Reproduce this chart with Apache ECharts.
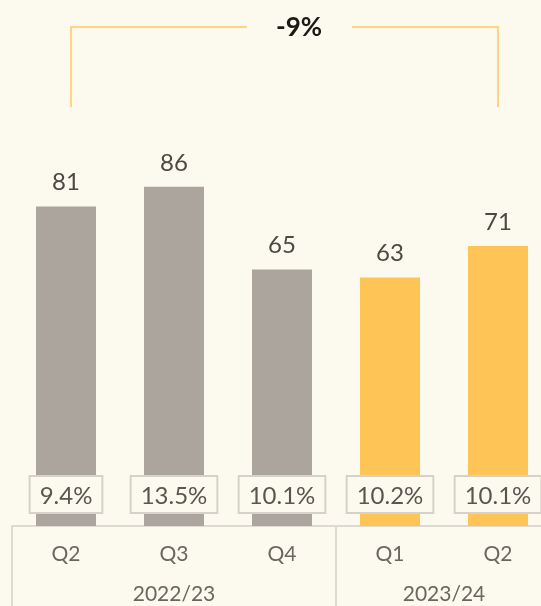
<!DOCTYPE html>
<html>
<head>
<meta charset="utf-8">
<script src="https://cdn.jsdelivr.net/npm/echarts@6/dist/echarts.min.js"></script>
<style>
  html, body { margin: 0; padding: 0; background: #fcf9ee; }
  #main { width: 541px; height: 606px; }
</style>
</head>
<body>
<div id="main"></div>
<script>
var chartDom = document.getElementById('main');
var myChart = echarts.init(chartDom);
var option;

// quarters and the fiscal year each belongs to
const quarters = ['Q2', 'Q3', 'Q4', 'Q1', 'Q2'];
const years = ['2022/23', '2023/24'];
const yearSizes = [3, 2];
const values = [81, 86, 65, 63, 71];
const margins = ['9.4%', '13.5%', '10.1%', '10.2%', '10.1%'];
const changeLabel = '-9%';

const greyColor = '#aca59e';
const yellowColor = '#ffc456';
const lineColor = '#dedad3';
const fontFamily = 'Lato, "Open Sans", sans-serif';

// year label sits in the middle of its group
let yearCenters = [];
let start = 0;
for (let i = 0; i < yearSizes.length; i++) {
  yearCenters.push(start + yearSizes[i] / 2);
  start += yearSizes[i];
}

option = {
  backgroundColor: '#fcf9ee',
  animation: false,
  grid: {
    left: 12,
    width: 540,
    top: 100,
    bottom: 80,
    containLabel: false,
    outerBoundsMode: 'none'
  },
  xAxis: [
    {
      type: 'category',
      data: quarters,
      axisLine: { lineStyle: { color: lineColor, width: 2 } },
      axisTick: {
        show: true,
        length: 80,
        interval: function (index) {
          return index === 0 || index === 3;
        },
        lineStyle: { color: lineColor, width: 2 }
      },
      axisLabel: {
        margin: 18,
        fontSize: 21,
        color: '#6b6660',
        fontFamily: fontFamily
      }
    },
    {
      type: 'value',
      position: 'bottom',
      min: 0,
      max: quarters.length,
      axisLine: { show: false },
      axisTick: { show: false },
      splitLine: { show: false },
      axisLabel: {
        customValues: yearCenters,
        margin: 58,
        fontSize: 21,
        color: '#6b6660',
        fontFamily: fontFamily,
        formatter: function (v) {
          let idx = yearCenters.indexOf(v);
          return idx >= 0 ? years[idx] : '';
        }
      }
    }
  ],
  yAxis: {
    type: 'value',
    min: 0,
    max: 108,
    show: false
  },
  series: [
    {
      type: 'bar',
      barWidth: 60,
      data: values.map(function (v, i) {
        return { value: v, itemStyle: { color: i < yearSizes[0] ? greyColor : yellowColor } };
      }),
      label: {
        show: true,
        position: 'top',
        distance: 12,
        fontSize: 24,
        color: '#4d4843',
        fontFamily: fontFamily
      }
    },
    {
      type: 'bar',
      barWidth: 60,
      barGap: '-100%',
      data: values,
      itemStyle: { color: 'transparent' },
      label: {
        show: true,
        position: 'insideBottom',
        distance: 14,
        fontSize: 24,
        color: '#5a5550',
        fontFamily: fontFamily,
        backgroundColor: '#fcf9ee',
        borderColor: '#d6d2cb',
        borderWidth: 2,
        padding: [7, 9, 4, 9],
        formatter: function (p) {
          return margins[p.dataIndex];
        }
      },
      silent: true
    }
  ]
};

option && myChart.setOption(option);

// bracket spanning first and last bar, with the change label
const xLeft = myChart.convertToPixel({ xAxisIndex: 0 }, 0) + 5;
const xRight = myChart.convertToPixel({ xAxisIndex: 0 }, quarters.length - 1);
const textX = 299;
const bracketStyle = { stroke: '#ffd37f', lineWidth: 2 };
myChart.setOption({
  graphic: [
    { type: 'polyline', shape: { points: [[xLeft, 107], [xLeft, 27], [247, 27]] }, style: bracketStyle, silent: true },
    { type: 'polyline', shape: { points: [[352, 27], [xRight, 27], [xRight, 107]] }, style: bracketStyle, silent: true },
    {
      type: 'text',
      x: textX,
      y: 28,
      style: {
        text: changeLabel,
        font: 'bold 26px ' + fontFamily,
        fill: '#1c1a18',
        align: 'center',
        verticalAlign: 'middle'
      }
    }
  ]
});
</script>
</body>
</html>
